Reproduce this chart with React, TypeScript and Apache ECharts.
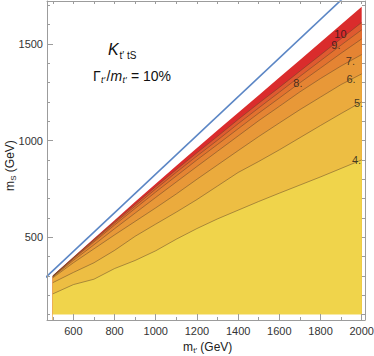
import React, { useEffect, useRef } from "react";
import * as echarts from "echarts";

// m_f' grid (GeV)
const massX = [500, 600, 700, 800, 900, 1000, 1100, 1200, 1300, 1400, 1500, 1600, 1700, 1800, 1900, 2000];
// upper edge of the computed region (m_S, GeV)
const upperEdge = [302, 398, 493, 588, 683, 777, 870, 962, 1053, 1144, 1235, 1326, 1417, 1509, 1600, 1692];
// contour lines K = 10 ... 4 (m_S, GeV)
const k10 = [300, 395, 488, 580, 671, 762, 850, 937, 1022, 1109, 1193, 1275, 1359, 1443, 1527, 1611];
const k9 = [299, 392, 483, 573, 661, 750, 836, 920, 1002, 1087, 1169, 1250, 1332, 1413, 1494, 1573];
const k8 = [297, 388, 476, 563, 649, 734, 817, 900, 980, 1061, 1142, 1220, 1299, 1375, 1452, 1526];
const k7 = [295, 380, 461, 544, 625, 706, 786, 866, 945, 1024, 1103, 1177, 1252, 1321, 1386, 1445];
const k6 = [290, 368, 440, 512, 582, 652, 724, 800, 874, 948, 1021, 1091, 1160, 1225, 1290, 1345];
const k5 = [265, 318, 368, 432, 505, 568, 630, 695, 765, 835, 892, 952, 1015, 1078, 1140, 1200];
const k4 = [207, 255, 283, 338, 380, 430, 490, 545, 595, 640, 685, 728, 770, 812, 856, 900];
// lower edge of the computed region
const lowerEdge = [100, 100, 100, 100, 100, 100, 100, 100, 100, 100, 100, 100, 100, 100, 100, 100];
// kinematic line m_S = m_f' - m_t
const diagonalX = [450, 2060];
const diagonalY = [277, 1887];
// contour labels
const labelTexts = ["10", "9.", "8.", "7.", "6.", "5.", "4."];
const labelX = [1897, 1875, 1690, 1945, 1948, 1985, 1975];
const labelY = [1552, 1495, 1297, 1412, 1319, 1196, 900];
// ticks
const xTickLabels = [600, 800, 1000, 1200, 1400, 1600, 1800, 2000];
const xMinorTicks = [500, 600, 700, 800, 900, 1000, 1100, 1200, 1300, 1400, 1500, 1600, 1700, 1800, 1900, 2000];
const yTickLabels = [500, 1000, 1500];
const yMinorTicks = [100, 200, 300, 400, 500, 600, 700, 800, 900, 1000, 1100, 1200, 1300, 1400, 1500, 1600, 1700];

const bandColors = ["#DA2C2C", "#DF5A30", "#E2712F", "#E58433", "#E89838", "#EBAB3D", "#EDBE43", "#F0D44B"];

const FONT = "'Liberation Sans', Arial, sans-serif";
const FRAME = "#9c9c9c";
const INK = "#111";

function txt(x: number, y: number, text: string, size: number, italic = false, extra: any = {}) {
  return {
    type: "text",
    x,
    y,
    z: 20,
    style: {
      text,
      fontSize: size,
      fontFamily: FONT,
      fontStyle: italic ? "italic" : "normal",
      fill: INK,
      verticalAlign: "middle",
      align: "left",
      ...extra,
    },
  };
}

export default function App() {
  const ref = useRef<HTMLDivElement>(null);
  useEffect(() => {
    if (!ref.current) return;
    const chart = echarts.init(ref.current, null, { renderer: "svg" });
    const bandLines = [upperEdge, k10, k9, k8, k7, k6, k5, k4];
    const series: any[] = bandLines.map((ys, i) => ({
      type: "line",
      data: massX.map((x, j) => [x, ys[j]]),
      symbol: "none",
      silent: true,
      z: 2,
      lineStyle: i === 0 ? { opacity: 0, width: 0 } : { color: "rgba(90,65,40,0.6)", width: 0.8 },
      areaStyle: { color: bandColors[i], opacity: 1 },
    }));
    series.push({
      type: "line",
      data: massX.map((x, j) => [x, lowerEdge[j]]),
      symbol: "none",
      silent: true,
      z: 2,
      lineStyle: { opacity: 0, width: 0 },
      areaStyle: { color: "#ffffff", opacity: 1 },
    });
    series.push({
      type: "line",
      data: diagonalX.map((x, j) => [x, diagonalY[j]]),
      symbol: "none",
      silent: true,
      z: 3,
      clip: true,
      lineStyle: { color: "#5B86C5", width: 1.6 },
    });
    series.push({
      type: "scatter",
      data: labelX.map((x, j) => [x, labelY[j], labelTexts[j]]),
      symbol: "circle",
      symbolSize: 1,
      itemStyle: { color: "rgba(0,0,0,0)" },
      silent: true,
      z: 4,
      label: {
        show: true,
        position: "inside",
        formatter: (p: any) => p.data[2],
        color: "#1a1a1a",
        fontSize: 11,
        fontFamily: FONT,
      },
    });

    const xBase = {
      type: "value",
      min: 472,
      max: 2016,
      z: 10,
      splitLine: { show: false },
      axisLine: { show: true, onZero: false, lineStyle: { color: FRAME, width: 1 } },
    };
    const yBase = {
      type: "value",
      min: 72,
      max: 1722,
      z: 10,
      splitLine: { show: false },
      axisLine: { show: true, onZero: false, lineStyle: { color: FRAME, width: 1 } },
    };

    chart.setOption({
      animation: false,
      grid: { left: 47, top: 1, width: 318, height: 319, outerBoundsMode: "none", containLabel: false },
      xAxis: [
        {
          ...xBase,
          position: "bottom",
          axisTick: { show: true, inside: true, length: 3, customValues: xMinorTicks, lineStyle: { color: FRAME } },
          axisLabel: {
            customValues: xTickLabels,
            color: "#333",
            fontSize: 11,
            fontFamily: FONT,
            margin: 5,
            formatter: (v: number) => String(v),
          },
        },
        {
          ...xBase,
          position: "top",
          axisTick: { show: true, inside: true, length: 3, customValues: xMinorTicks, lineStyle: { color: FRAME } },
          axisLabel: { show: false },
        },
        {
          ...xBase,
          position: "bottom",
          axisLine: { show: false },
          axisTick: { show: true, inside: true, length: 6, customValues: xTickLabels, lineStyle: { color: FRAME } },
          axisLabel: { show: false },
        },
      ],
      yAxis: [
        {
          ...yBase,
          position: "left",
          axisTick: { show: true, inside: true, length: 3, customValues: yMinorTicks, lineStyle: { color: FRAME } },
          axisLabel: {
            customValues: yTickLabels,
            color: "#333",
            fontSize: 11,
            fontFamily: FONT,
            margin: 4,
            formatter: (v: number) => String(v),
          },
        },
        {
          ...yBase,
          position: "right",
          axisTick: { show: true, inside: true, length: 3, customValues: yMinorTicks, lineStyle: { color: FRAME } },
          axisLabel: { show: false },
        },
        {
          ...yBase,
          position: "left",
          axisLine: { show: false },
          axisTick: { show: true, inside: true, length: 6, customValues: yTickLabels, lineStyle: { color: FRAME } },
          axisLabel: { show: false },
        },
      ],
      graphic: [
        // title line 1: K_{t' tS}
        txt(108, 49, "K", 16, true),
        txt(119.5, 55, "t′ tS", 10),
        // title line 2: Γ_{t'}/m_{t'} = 10%
        txt(93, 76, "Γ", 14),
        txt(101, 80, "t′", 9, true),
        txt(106.5, 76, "/", 14),
        txt(110.5, 76, "m", 14, true),
        txt(122.5, 80, "t′", 9, true),
        txt(127, 76, " = 10%", 14),
        // y axis name, rotated
        {
          type: "group",
          x: 10,
          y: 191,
          rotation: Math.PI / 2,
          z: 20,
          children: [
            { type: "text", x: 0, y: 0, style: { text: "m", fontSize: 12, fontFamily: FONT, fill: "#222", verticalAlign: "middle", align: "left" } },
            { type: "text", x: 10.2, y: 3.5, style: { text: "S", fontSize: 8, fontFamily: FONT, fill: "#222", verticalAlign: "middle", align: "left" } },
            { type: "text", x: 15.5, y: 0, style: { text: " (GeV)", fontSize: 12, fontFamily: FONT, fill: "#222", verticalAlign: "middle", align: "left" } },
          ],
        },
        // x axis name
        txt(183, 347, "m", 12, false, { fill: "#222" }),
        txt(193.2, 350.5, "t′", 8, false, { fill: "#222" }),
        txt(197, 347, " (GeV)", 12, false, { fill: "#222" }),
      ],
      series,
    });
    return () => chart.dispose();
  }, []);
  return <div ref={ref} style={{ position: "absolute", left: 0, top: 0, width: 374, height: 356 }} />;
}
